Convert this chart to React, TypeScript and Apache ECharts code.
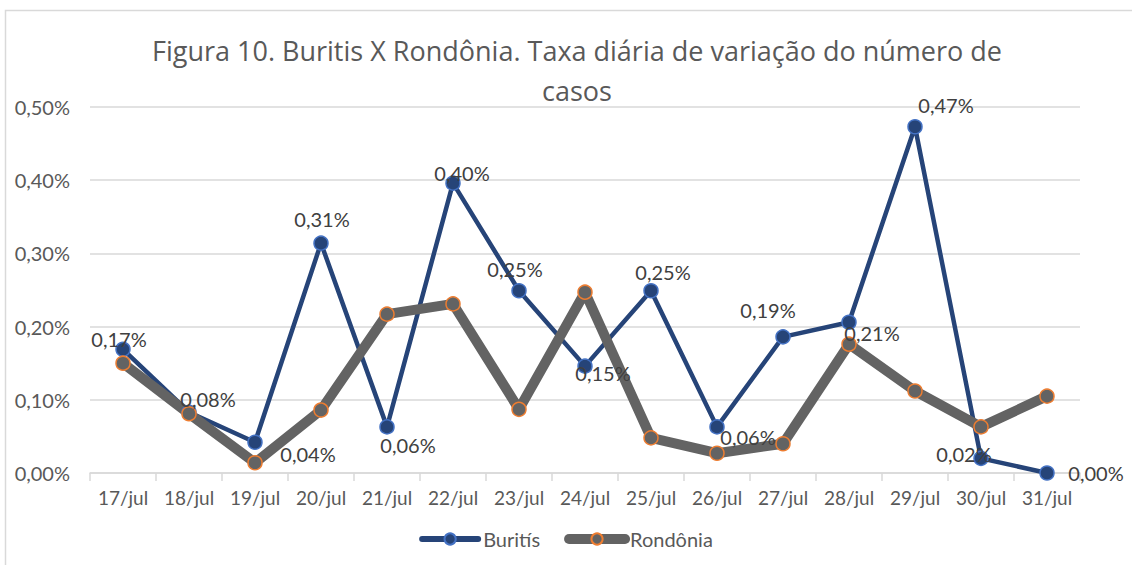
import React, { useEffect, useRef } from "react";
import * as echarts from "echarts";

const categories = ["17/jul", "18/jul", "19/jul", "20/jul", "21/jul", "22/jul", "23/jul", "24/jul", "25/jul", "26/jul", "27/jul", "28/jul", "29/jul", "30/jul", "31/jul"];
const buritis = [0.169, 0.083, 0.042, 0.314, 0.063, 0.396, 0.249, 0.146, 0.249, 0.063, 0.186, 0.206, 0.473, 0.020, 0.0];
const rondonia = [0.150, 0.081, 0.014, 0.086, 0.217, 0.231, 0.087, 0.247, 0.048, 0.027, 0.040, 0.176, 0.112, 0.063, 0.105];
const labelOffsets: [number, number][] = [
  [-4, -10], [19, -13], [53, 12], [1, -24], [21, 18], [9, -10], [-4, -22], [18, 7],
  [12, -19], [31, 10], [-15, -27], [23, 11], [31, -22], [-17, -4], [49, 0],
];
const titleText = "Figura 10. Buritis X Rondônia. Taxa diária de variação do número de\ncasos";

const FONT = "Lato";
const fmt = (v: number) => v.toFixed(2).replace(".", ",") + "%";

export default function App() {
  const ref = useRef<HTMLDivElement>(null);
  useEffect(() => {
    document.body.style.margin = "0";
    const chart = echarts.init(ref.current!, undefined, { renderer: "svg" });
    chart.setOption({
      animation: false,
      backgroundColor: "#ffffff",
      textStyle: { fontFamily: FONT },
      title: {
        text: titleText,
        left: 572,
        top: 25,
        textAlign: "center",
        textStyle: { fontFamily: "Open Sans", fontSize: 27, fontWeight: "normal", color: "#595959", lineHeight: 40, align: "center" },
      },
      graphic: [
        {
          type: "rect",
          shape: { x: 5.5, y: 10.5, width: 1300, height: 800 },
          style: { fill: "none", stroke: "#d9d9d9", lineWidth: 1.5 },
          silent: true,
          z: -10,
        },
      ],
      legend: {
        left: "center",
        top: 524,
        itemWidth: 56,
        itemHeight: 14,
        itemGap: 24,
        textStyle: { fontFamily: FONT, fontSize: 20, color: "#595959" },
        data: [
          { name: "Buritís", lineStyle: { width: 6, cap: "round" } },
          { name: "Rondônia", lineStyle: { width: 10, cap: "round" } },
        ],
      },
      grid: { left: 90, right: 52, top: 107, bottom: 92, containLabel: false },
      xAxis: {
        type: "category",
        data: categories,
        boundaryGap: true,
        axisLine: { lineStyle: { color: "#d9d9d9", width: 1.5 } },
        axisTick: { show: true, interval: 0, length: 8, lineStyle: { color: "#d9d9d9", width: 1.5 } },
        axisLabel: { fontFamily: FONT, fontSize: 19, color: "#595959", margin: 15, interval: 0 },
        splitLine: { show: false },
      },
      yAxis: {
        type: "value",
        min: 0,
        max: 0.5,
        interval: 0.1,
        axisLine: { show: false },
        axisTick: { show: false },
        axisLabel: { fontFamily: FONT, fontSize: 20, color: "#595959", margin: 20, formatter: (v: number) => fmt(v) },
        splitLine: { lineStyle: { color: "#d9d9d9", width: 1.5 } },
      },
      series: [
        {
          name: "Buritís",
          type: "line",
          data: buritis.map((v, i) => ({
            value: v,
            label: { offset: labelOffsets[i] },
          })),
          symbol: "circle",
          symbolSize: 14,
          lineStyle: { color: "#264478", width: 4.5 },
          itemStyle: { color: "#264478", borderColor: "#4472C4", borderWidth: 1.5 },
          label: {
            show: true,
            position: "inside",
            fontFamily: FONT,
            fontSize: 20,
            color: "#404040",
            formatter: (p: any) => fmt(p.value),
          },
          z: 2,
        },
        {
          name: "Rondônia",
          type: "line",
          data: rondonia,
          symbol: "circle",
          symbolSize: 14,
          lineStyle: { color: "#636363", width: 10 },
          itemStyle: { color: "#636363", borderColor: "#ED7D31", borderWidth: 1.5 },
          label: { show: false },
          z: 2,
        },
      ],
    });
    return () => chart.dispose();
  }, []);
  return <div ref={ref} style={{ width: 1132, height: 565 }} />;
}
